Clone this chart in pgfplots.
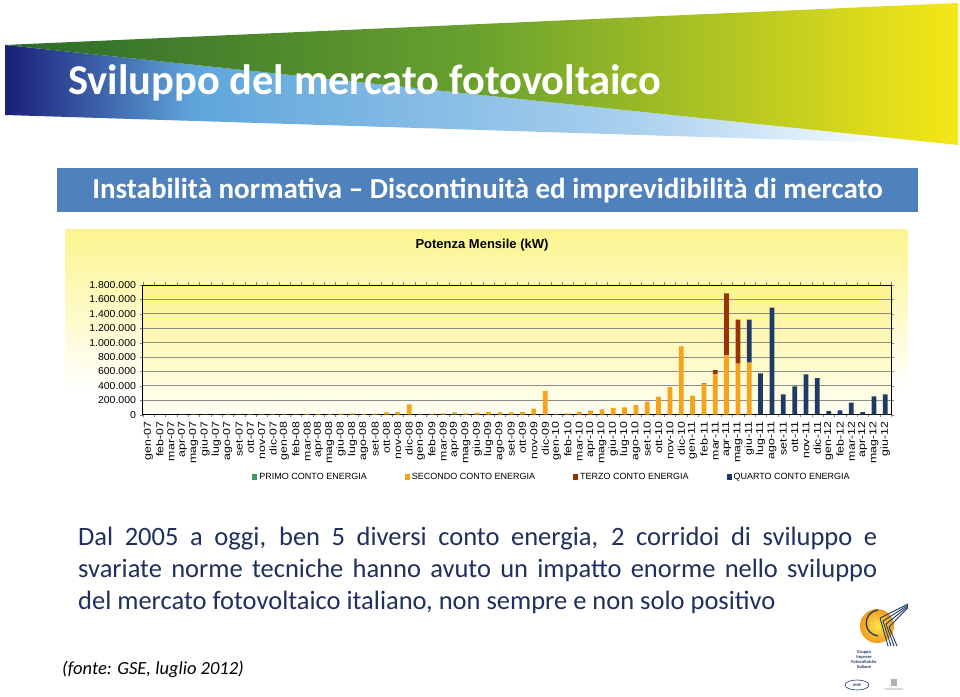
\documentclass[border=0pt]{standalone}
\usepackage{pgfplots}
\pgfplotsset{compat=1.18}
\usepackage{pgfplotstable}
\usepackage{fontspec}
\setmainfont{Carlito}
\newfontfamily\arial{Liberation Sans}

\definecolor{primo}{HTML}{3C9A5F}
\definecolor{secondo}{HTML}{F7A21B}
\definecolor{terzo}{HTML}{993300}
\definecolor{quarto}{HTML}{1F3A64}
\definecolor{navyA}{HTML}{1A1F78}
\definecolor{lblue}{HTML}{5FA6DB}
\definecolor{lblue2}{HTML}{A9D0EE}
\definecolor{dgreen}{HTML}{2C6A2A}
\definecolor{mgreen}{HTML}{6AA22E}
\definecolor{yel}{HTML}{F6E716}
\definecolor{subbox}{HTML}{4F81BD}
\definecolor{textnavy}{HTML}{1F2F5F}
\definecolor{panelY}{HTML}{FCF58E}
\definecolor{plotY}{HTML}{FBF38C}
\definecolor{plotW}{HTML}{FFFFF4}
\definecolor{gridgray}{HTML}{8C8C8C}
\definecolor{sunO}{HTML}{F39A1E}
\definecolor{sunY}{HTML}{FFE84A}

\pgfdeclarehorizontalshading{greenwedge}{100bp}{color(0bp)=(dgreen); color(25bp)=(dgreen); color(50bp)=(mgreen); color(75bp)=(yel); color(100bp)=(yel)}
\pgfdeclarehorizontalshading{bluewedge}{100bp}{color(0bp)=(navyA); color(25bp)=(navyA); color(35bp)=(lblue); color(58bp)=(lblue2); color(72bp)=(white); color(100bp)=(white)}
\pgfdeclareverticalshading{panel}{100bp}{color(0bp)=(white); color(25bp)=(white); color(45bp)=(white); color(75bp)=(panelY); color(100bp)=(panelY)}
\pgfdeclareverticalshading{plotbg}{100bp}{color(0bp)=(plotW); color(25bp)=(plotW); color(75bp)=(plotY); color(100bp)=(plotY)}

\pgfplotstableread{
x p s t q
0 1000 0 0 0
1 1500 0 0 0
2 1500 0 0 0
3 2000 500 0 0
4 2500 1000 0 0
5 3000 1500 0 0
6 3000 2000 0 0
7 2500 2000 0 0
8 3000 3000 0 0
9 3500 4000 0 0
10 4000 4000 0 0
11 5000 6000 0 0
12 2000 4000 0 0
13 1000 5000 0 0
14 1000 7000 0 0
15 1000 8000 0 0
16 1000 9000 0 0
17 1000 13000 0 0
18 1000 19000 0 0
19 1000 12000 0 0
20 1000 15000 0 0
21 1000 30000 0 0
22 1000 36000 0 0
23 2000 141000 0 0
24 0 5000 0 0
25 0 14000 0 0
26 0 19000 0 0
27 12000 20000 0 0
28 0 19000 0 0
29 0 28000 0 0
30 0 37000 0 0
31 0 32000 0 0
32 0 32000 0 0
33 0 37000 0 0
34 0 83000 0 0
35 0 329000 0 0
36 0 5000 0 0
37 0 19000 0 0
38 0 42000 0 0
39 0 56000 0 0
40 0 74000 0 0
41 0 93000 0 0
42 0 102000 0 0
43 0 134000 0 0
44 0 180000 0 0
45 0 250000 0 0
46 0 384000 0 0
47 0 949000 0 0
48 0 264000 0 0
49 0 425000 10000 0
50 0 560000 60000 0
51 0 824000 861000 0
52 0 708000 611000 0
53 0 722000 0 597000
54 0 0 0 574000
55 0 0 0 1486000
56 0 0 0 282000
57 0 0 0 394000
58 0 0 0 560000
59 0 0 5000 504000
60 0 0 0 51000
61 0 0 0 60000
62 0 0 0 167000
63 0 0 0 37000
64 0 0 0 255000
65 0 0 0 282000
}\data

\begin{document}
\begin{tikzpicture}[x=1pt,y=1pt]
\useasboundingbox (0,0) rectangle (960,696);
\fill[white] (0,0) rectangle (960,696);

% banner
\shade[shading=bluewedge] (5,651) -- (958,551) -- (5,581) -- cycle;
\shade[shading=greenwedge] (5,651) -- (958,693) -- (958,551) -- cycle;
\node[anchor=base west, inner sep=0, text=white, font=\fontsize{42.5}{43}\selectfont\bfseries] at (68,601) {Sviluppo del mercato fotovoltaico};

% subtitle box
\fill[subbox] (57,484) rectangle (918,528);
\node[anchor=base, inner sep=0, text=white, font=\fontsize{29}{29}\selectfont\bfseries] at (487.5,497) {Instabilità normativa -- Discontinuità ed imprevidibilità di mercato};

% chart panel
\shade[shading=panel] (65,196) rectangle (908,466);
\node[font=\arial\bfseries\fontsize{13}{14}\selectfont] at (482,451) {Potenza Mensile (kW)};

\begin{axis}[
  at={(142.7pt,281.3pt)}, anchor=south west,
  scale only axis, width=748.3pt, height=129.7pt,
  ybar stacked, bar width=0.42,
  xmin=-0.5, xmax=65.5, ymin=0, ymax=1800000,
  ytick={0,200000,...,1800000},
  scaled y ticks=false,
  yticklabel style={font=\arial\fontsize{10}{10}\selectfont, xscale=1.05, /pgf/number format/.cd, fixed, 1000 sep={.}, assume math mode=true},
  xtick={0,...,65},
  xticklabels={gen-07,feb-07,mar-07,apr-07,mag-07,giu-07,lug-07,ago-07,set-07,ott-07,nov-07,dic-07,
    gen-08,feb-08,mar-08,apr-08,mag-08,giu-08,lug-08,ago-08,set-08,ott-08,nov-08,dic-08,
    gen-09,feb-09,mar-09,apr-09,mag-09,giu-09,lug-09,ago-09,set-09,ott-09,nov-09,dic-09,
    gen-10,feb-10,mar-10,apr-10,mag-10,giu-10,lug-10,ago-10,set-10,ott-10,nov-10,dic-10,
    gen-11,feb-11,mar-11,apr-11,mag-11,giu-11,lug-11,ago-11,set-11,ott-11,nov-11,dic-11,
    gen-12,feb-12,mar-12,apr-12,mag-12,giu-12},
  xticklabel style={rotate=90, anchor=east, xscale=1.23, font=\arial\fontsize{10}{10}\selectfont},
  ymajorgrids, major grid style={gridgray, line width=0.9pt},
  axis line style={black, line width=0.9pt},
  tick align=outside,
  major x tick style={draw=none},
  minor xtick={-0.5,0.5,...,65.5},
  minor tick length=2.5pt,
  major tick length=3pt,
  axis background/.style={shade, shading=plotbg},
  legend style={draw=none, fill=none, at={(0.547,-0.48)}, anchor=center,
    legend columns=4, font=\arial\fontsize{9}{9}\selectfont,
    /tikz/every even column/.append style={column sep=36pt}},
  legend image code/.code={\fill[#1] (0pt,-2.6pt) rectangle (5pt,2.6pt);},
]
\addplot[fill=primo, draw=none] table[x=x,y=p]{\data};
\addplot[fill=secondo, draw=none] table[x=x,y=s]{\data};
\addplot[fill=terzo, draw=none] table[x=x,y=t]{\data};
\addplot[fill=quarto, draw=none] table[x=x,y=q]{\data};
\legend{PRIMO CONTO ENERGIA, SECONDO CONTO ENERGIA, TERZO CONTO ENERGIA, QUARTO CONTO ENERGIA}
\end{axis}

% paragraph
\begin{scope}[every node/.style={anchor=base west, inner sep=0, text=textnavy, font=\fontsize{26.5}{32}\selectfont}]
\node at (78,151) {\makebox[799pt][s]{Dal 2005 a oggi, ben 5 diversi conto energia, 2 corridoi di sviluppo e}};
\node at (78,119) {\makebox[799pt][s]{svariate norme tecniche hanno avuto un impatto enorme nello sviluppo}};
\node at (78,87) {del mercato fotovoltaico italiano, non sempre e non solo positivo};
\end{scope}

% source
\node[anchor=base west, inner sep=0, font=\fontsize{18.5}{18.5}\selectfont\itshape] at (62,22) {(fonte: GSE, luglio 2012)};

% logo (approximation)
\shade[inner color=sunY, outer color=sunO] (877,70) circle (17);
\draw[quarto, line width=1.3pt] (878,86) arc (95:265:13);
\foreach \d in {0,3,6,9}{
  \draw[quarto, line width=0.9pt] (880+\d,78-\d) -- (908,92-\d*0.4);
  \draw[quarto, line width=0.9pt] (880+\d,78-\d) -- (888+\d,50);
}
\node[font=\fontsize{4.5}{5}\selectfont\bfseries, align=center, text=quarto, inner sep=0] at (864,36) {Gruppo\\Imprese\\Fotovoltaiche\\Italiane};
\draw[quarto, line width=0.6pt] (857,11) ellipse (12 and 5);
\node[font=\fontsize{4}{4}\selectfont\bfseries, text=quarto, inner sep=0] at (857,11) {ANIE};
\node[font=\fontsize{2.8}{3}\selectfont, text=gray, inner sep=0] at (894,6) {CONFINDUSTRIA};
\fill[gray!60] (891,10) rectangle (897,17);
\end{tikzpicture}
\end{document}
